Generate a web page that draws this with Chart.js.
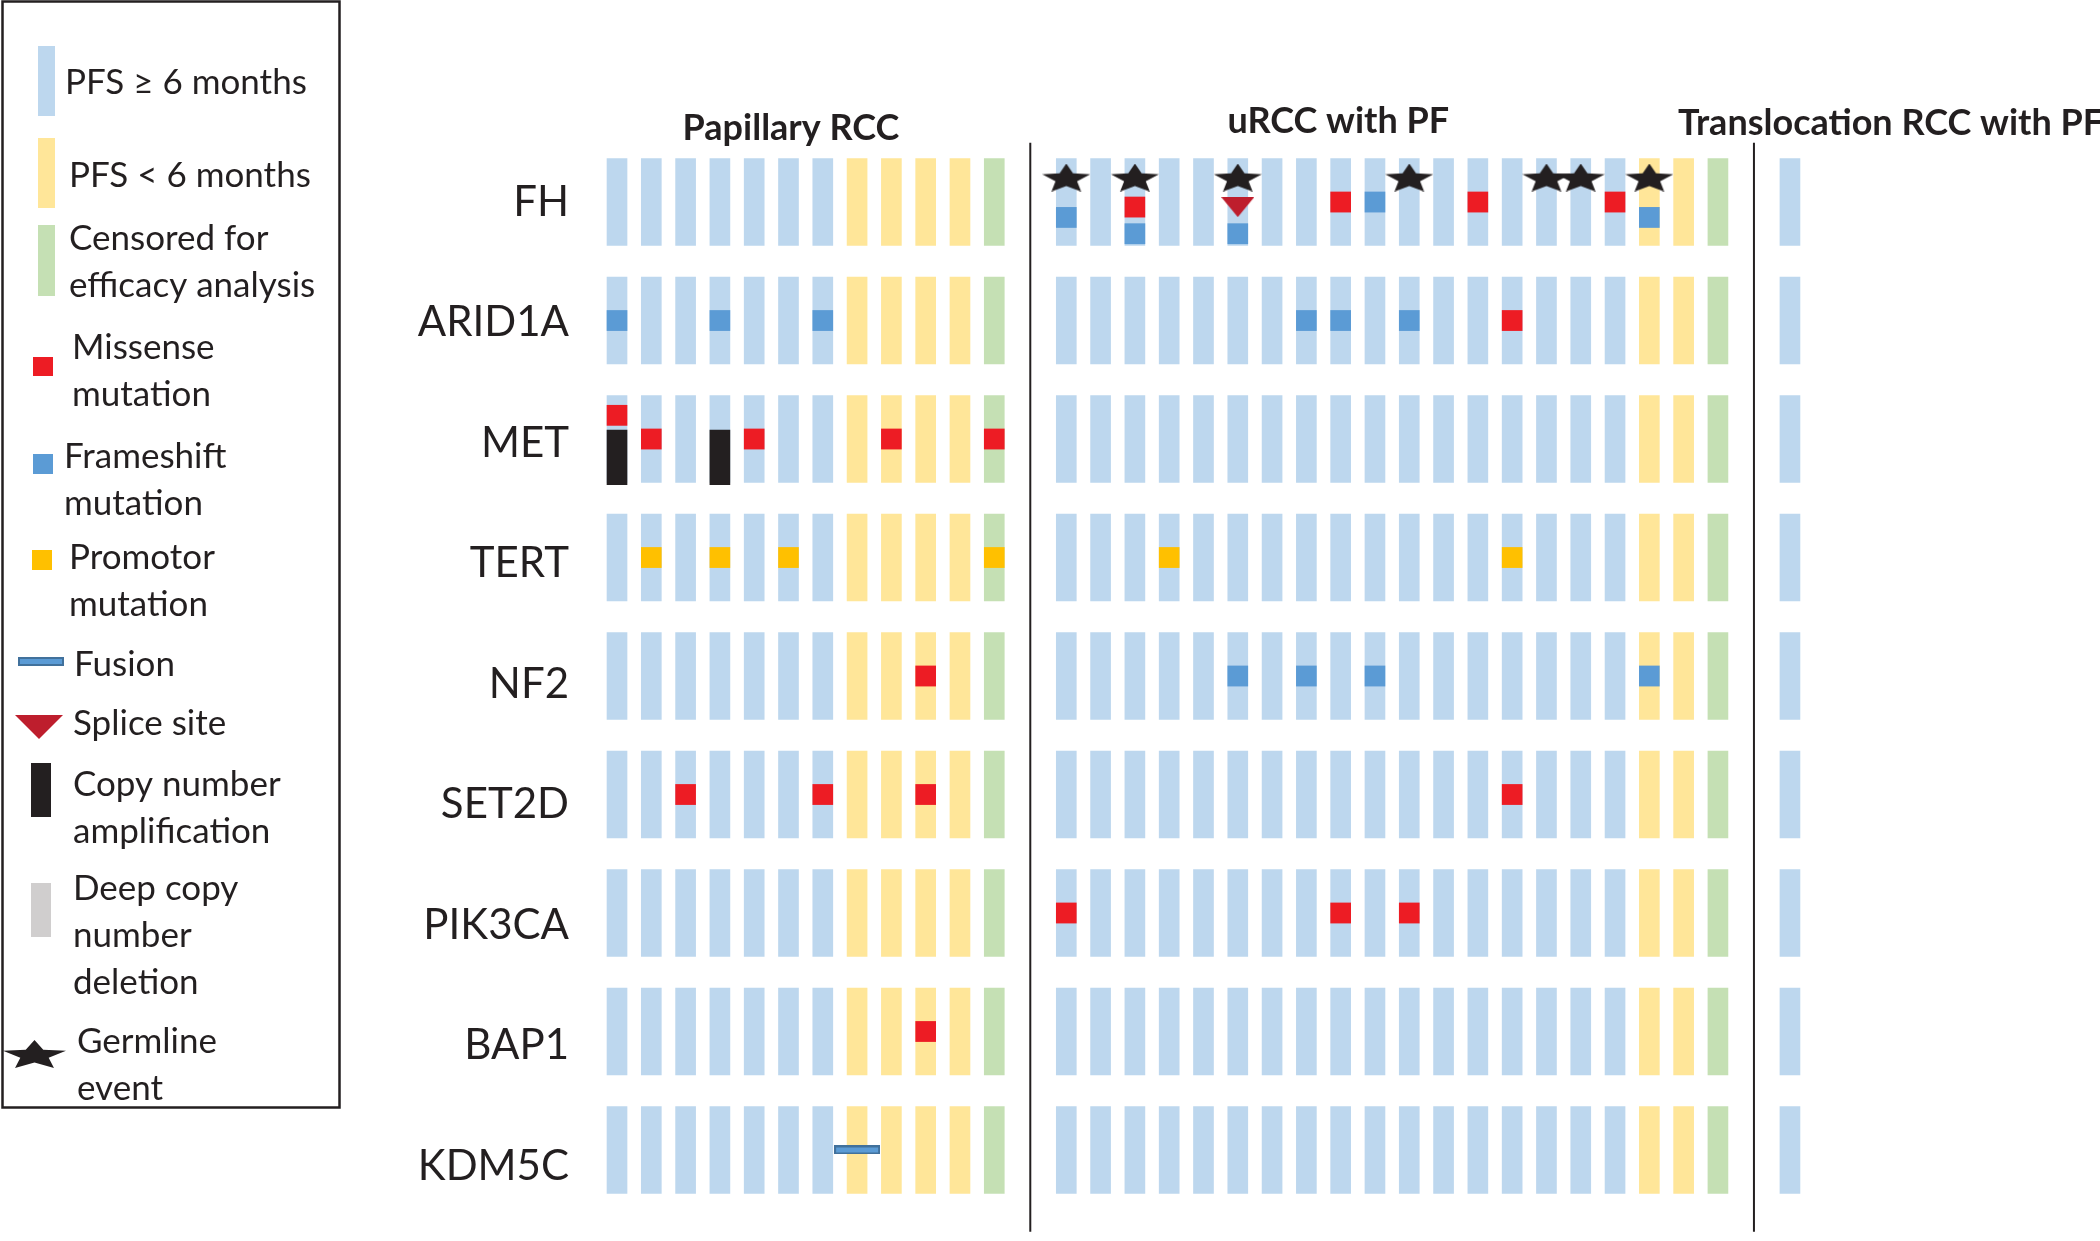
<!DOCTYPE html>
<html>
<head>
<meta charset="utf-8">
<script src="https://cdn.jsdelivr.net/npm/chart.js@4.4.0/dist/chart.umd.min.js"></script>
<style>
  html, body { margin: 0; padding: 0; background: #fff; }
  #wrap { width: 2100px; height: 1241px; }
</style>
</head>
<body>
<div id="wrap"><canvas id="chart" width="2100" height="1241"></canvas></div>
<script>
var genes = ['FH', 'ARID1A', 'MET', 'TERT', 'NF2', 'SET2D', 'PIK3CA', 'BAP1', 'KDM5C'];
var groupNames = ['Papillary RCC', 'uRCC with PF', 'Translocation RCC with PF'];

// L = PFS >= 6 months, S = PFS < 6 months, C = censored for efficacy analysis
var papillaryPFS = ['L', 'L', 'L', 'L', 'L', 'L', 'L', 'S', 'S', 'S', 'S', 'C'];
var urccPFS = ['L', 'L', 'L', 'L', 'L', 'L', 'L', 'L', 'L', 'L', 'L', 'L', 'L', 'L', 'L', 'L', 'L', 'S', 'S', 'C'];
var translocationPFS = ['L'];

// [gene, patient number in group, event]
var papillaryEvents = [
    ['ARID1A', 1, 'frameshift'], ['ARID1A', 4, 'frameshift'], ['ARID1A', 7, 'frameshift'],
    ['MET', 1, 'missense'], ['MET', 1, 'amp'], ['MET', 2, 'missense'], ['MET', 4, 'amp'],
    ['MET', 5, 'missense'], ['MET', 9, 'missense'], ['MET', 12, 'missense'],
    ['TERT', 2, 'promotor'], ['TERT', 4, 'promotor'], ['TERT', 6, 'promotor'], ['TERT', 12, 'promotor'],
    ['NF2', 10, 'missense'],
    ['SET2D', 3, 'missense'], ['SET2D', 7, 'missense'], ['SET2D', 10, 'missense'],
    ['BAP1', 10, 'missense'],
    ['KDM5C', 8, 'fusion']
];
var urccEvents = [
    ['FH', 1, 'germline'], ['FH', 1, 'frameshift'],
    ['FH', 3, 'germline'], ['FH', 3, 'missense'], ['FH', 3, 'frameshift'],
    ['FH', 6, 'germline'], ['FH', 6, 'splice'], ['FH', 6, 'frameshift'],
    ['FH', 9, 'missense'], ['FH', 10, 'frameshift'], ['FH', 11, 'germline'], ['FH', 13, 'missense'],
    ['FH', 15, 'germline'], ['FH', 16, 'germline'], ['FH', 17, 'missense'],
    ['FH', 18, 'germline'], ['FH', 18, 'frameshift'],
    ['ARID1A', 8, 'frameshift'], ['ARID1A', 9, 'frameshift'], ['ARID1A', 11, 'frameshift'], ['ARID1A', 14, 'missense'],
    ['TERT', 4, 'promotor'], ['TERT', 14, 'promotor'],
    ['NF2', 6, 'frameshift'], ['NF2', 8, 'frameshift'], ['NF2', 10, 'frameshift'], ['NF2', 18, 'frameshift'],
    ['SET2D', 14, 'missense'],
    ['PIK3CA', 1, 'missense'], ['PIK3CA', 9, 'missense'], ['PIK3CA', 11, 'missense']
];
var translocationEvents = [];

var groupPFS = [papillaryPFS, urccPFS, translocationPFS];
var groupEvents = [papillaryEvents, urccEvents, translocationEvents];

var pfsColors = { L: '#BDD7EE', S: '#FFE699', C: '#C5E0B4' };
var markColors = { missense: '#ED1C24', frameshift: '#5B9BD5', promotor: '#FFC000', amp: '#231F20' };
var ink = '#231f20';

// x position of each group's first patient (gap of 2.1 slots between groups)
var groupGap = 2.1;
var groupStart = [];
var pos = 0;
for (var g = 0; g < groupPFS.length; g++) {
    groupStart.push(pos);
    pos += groupPFS[g].length - 1 + groupGap;
}

function starImage(w, h) {
    var c = document.createElement('canvas');
    c.width = w; c.height = h;
    var gx = c.getContext('2d');
    var sx = w / 1.902, sy = h / 1.809;
    gx.beginPath();
    for (var i = 0; i < 10; i++) {
        var a = -Math.PI / 2 + i * Math.PI / 5;
        var r = i % 2 ? 0.45 : 1;
        var px = w / 2 + Math.cos(a) * r * sx, py = (Math.sin(a) * r + 1) * sy;
        if (i) gx.lineTo(px, py); else gx.moveTo(px, py);
    }
    gx.closePath();
    gx.fillStyle = ink;
    gx.fill();
    return c;
}
function triangleImage(w, h) {
    var c = document.createElement('canvas');
    c.width = w; c.height = h;
    var gx = c.getContext('2d');
    gx.beginPath();
    gx.moveTo(0, 0); gx.lineTo(w, 0); gx.lineTo(w / 2, h); gx.closePath();
    gx.fillStyle = '#BE1E2D';
    gx.fill();
    return c;
}
function fusionImage(w, h) {
    var c = document.createElement('canvas');
    c.width = w; c.height = h;
    var gx = c.getContext('2d');
    gx.fillStyle = '#5B9BD5';
    gx.fillRect(0, 0, w, h);
    gx.strokeStyle = '#41719C';
    gx.lineWidth = 2;
    gx.strokeRect(1, 1, w - 2, h - 2);
    return c;
}

// column backgrounds, one per patient and gene
var columnData = [], columnColors = [];
groupPFS.forEach(function(list, g) {
    list.forEach(function(s, p) {
        genes.forEach(function(gene, r) {
            columnData.push({ x: groupStart[g] + p, y: [r - 0.367, r + 0.367] });
            columnColors.push(pfsColors[s]);
        });
    });
});

// collect events per cell and stack them
var cells = {};
groupEvents.forEach(function(list, g) {
    list.forEach(function(e) {
        var key = g + '|' + e[1] + '|' + e[0];
        if (!cells[key]) cells[key] = { x: groupStart[g] + e[1] - 1, r: genes.indexOf(e[0]), kinds: [] };
        cells[key].kinds.push(e[2]);
    });
});

var markData = { missense: [], frameshift: [], promotor: [], amp: [], splice: [], germline: [], fusion: [] };
var half = 0.085, step = 0.225;
Object.keys(cells).forEach(function(key) {
    var c = cells[key];
    var star = c.kinds.indexOf('germline') >= 0;
    var amp = c.kinds.indexOf('amp') >= 0;
    var marks = c.kinds.filter(function(k) { return k !== 'germline' && k !== 'amp'; });
    if (star) markData.germline.push({ x: c.x, y: c.r - 0.207 });
    if (amp) markData.amp.push({ x: c.x, y: [c.r - 0.076, c.r + 0.385] });
    var base = amp ? -0.2 : (star ? 0.13 : 0);
    marks.forEach(function(k, j) {
        var dy = amp ? base - j * step : base + (j - (marks.length - 1) / 2) * step;
        if (star && marks.length > 1) dy += 0.025;
        var yc = c.r + dy;
        if (k === 'splice' || k === 'fusion') markData[k].push({ x: c.x, y: yc });
        else markData[k].push({ x: c.x, y: [yc - half, yc + half] });
    });
});

var datasets = [{
    type: 'bar', data: columnData, backgroundColor: columnColors,
    barThickness: 20, grouped: false, order: 10
}];
['missense', 'frameshift', 'promotor', 'amp'].forEach(function(k) {
    datasets.push({
        type: 'bar', data: markData[k], backgroundColor: markColors[k],
        barThickness: 20, grouped: false, order: 5
    });
});
datasets.push({ type: 'scatter', data: markData.splice, pointStyle: triangleImage(33, 20), pointRadius: 5, order: 4 });
datasets.push({ type: 'scatter', data: markData.fusion, pointStyle: fusionImage(46, 9), pointRadius: 5, order: 4 });
datasets.push({ type: 'scatter', data: markData.germline, pointStyle: starImage(48, 28), pointRadius: 5, order: 2 });

// separator lines between groups
for (var s = 1; s < groupStart.length; s++) {
    var xm = (groupStart[s] + groupStart[s - 1] + groupPFS[s - 1].length - 1) / 2;
    datasets.push({
        type: 'line', data: [{ x: xm, y: -0.5 }, { x: xm, y: 8.69 }],
        borderColor: ink, borderWidth: 2, pointRadius: 0, fill: false, order: 1
    });
}

var titleLayout = [
    { align: 'center', dx: 174, y: 140 },
    { align: 'center', dx: 272, y: 133 },
    { align: 'left', dx: -112, y: 135 }
];

var legendItems = [
    { lines: ['PFS \u2265 6 months'], x: 65, y: 94 },
    { lines: ['PFS < 6 months'], x: 69, y: 187 },
    { lines: ['Censored for', 'efficacy analysis'], x: 69, y: 250 },
    { lines: ['Missense', 'mutation'], x: 72, y: 359 },
    { lines: ['Frameshift', 'mutation'], x: 64, y: 468 },
    { lines: ['Promotor', 'mutation'], x: 69, y: 569 },
    { lines: ['Fusion'], x: 74, y: 676 },
    { lines: ['Splice site'], x: 73, y: 735 },
    { lines: ['Copy number', 'amplification'], x: 73, y: 796 },
    { lines: ['Deep copy', 'number', 'deletion'], x: 73, y: 900 },
    { lines: ['Germline', 'event'], x: 77, y: 1053 }
];

var decorPlugin = {
    id: 'decor',
    afterDraw: function(chart) {
        var ctx = chart.ctx, xs = chart.scales.x;
        ctx.save();
        // group titles
        ctx.fillStyle = ink;
        ctx.font = 'bold 36px Lato';
        ctx.textBaseline = 'alphabetic';
        groupNames.forEach(function(name, g) {
            var t = titleLayout[g];
            ctx.textAlign = t.align;
            ctx.fillText(name, xs.getPixelForValue(groupStart[g]) + t.dx, t.y);
        });

        // legend box
        ctx.strokeStyle = ink;
        ctx.lineWidth = 2.5;
        ctx.strokeRect(2.5, 1.5, 337, 1106);

        ctx.fillStyle = pfsColors.L; ctx.fillRect(38, 46, 17, 70);
        ctx.fillStyle = pfsColors.S; ctx.fillRect(38, 138, 17, 70);
        ctx.fillStyle = pfsColors.C; ctx.fillRect(38, 225, 17, 71);
        ctx.fillStyle = markColors.missense; ctx.fillRect(33, 357, 20, 19);
        ctx.fillStyle = markColors.frameshift; ctx.fillRect(33, 454, 20, 20);
        ctx.fillStyle = markColors.promotor; ctx.fillRect(32, 550, 20, 20);
        ctx.drawImage(fusionImage(46, 9), 18, 657);
        ctx.drawImage(triangleImage(48, 24), 15, 715);
        ctx.fillStyle = markColors.amp; ctx.fillRect(31, 763, 20, 54);
        ctx.fillStyle = '#D0CECE'; ctx.fillRect(31, 883, 20, 54);
        ctx.drawImage(starImage(63, 28), 3, 1040);

        ctx.fillStyle = ink;
        ctx.font = '35px Lato';
        ctx.textAlign = 'left';
        legendItems.forEach(function(it) {
            it.lines.forEach(function(line, i) {
                ctx.fillText(line, it.x, it.y + i * 47);
            });
        });
        ctx.restore();
    }
};

var ctx = document.getElementById('chart').getContext('2d');
var oncoChart = new Chart(ctx, {
    type: 'bar',
    data: { datasets: datasets },
    options: {
        responsive: false,
        animation: false,
        events: [],
        layout: { padding: 0, autoPadding: false },
        plugins: { legend: { display: false }, tooltip: { enabled: false } },
        scales: {
            x: {
                type: 'linear', min: -0.496, max: 43.24, offset: false, display: false
            },
            y: {
                type: 'linear', reverse: true, min: -1.705, max: 8.768, offset: false,
                afterFit: function(scale) {
                    scale.width = 600;
                    scale.paddingTop = 0;
                    scale.paddingBottom = 0;
                },
                // gene names sit on a slightly wider pitch than the rows, as in the figure
                afterBuildTicks: function(scale) {
                    scale.ticks = genes.map(function(g, i) { return { value: i * 1.017 }; });
                },
                ticks: {
                    autoSkip: false, padding: 31, color: ink,
                    font: { family: 'Lato', size: 42 },
                    callback: function(v) { return genes[Math.round(v / 1.017)]; }
                },
                grid: { display: false, drawTicks: false },
                border: { display: false }
            }
        }
    },
    plugins: [decorPlugin]
});
</script>
</body>
</html>
